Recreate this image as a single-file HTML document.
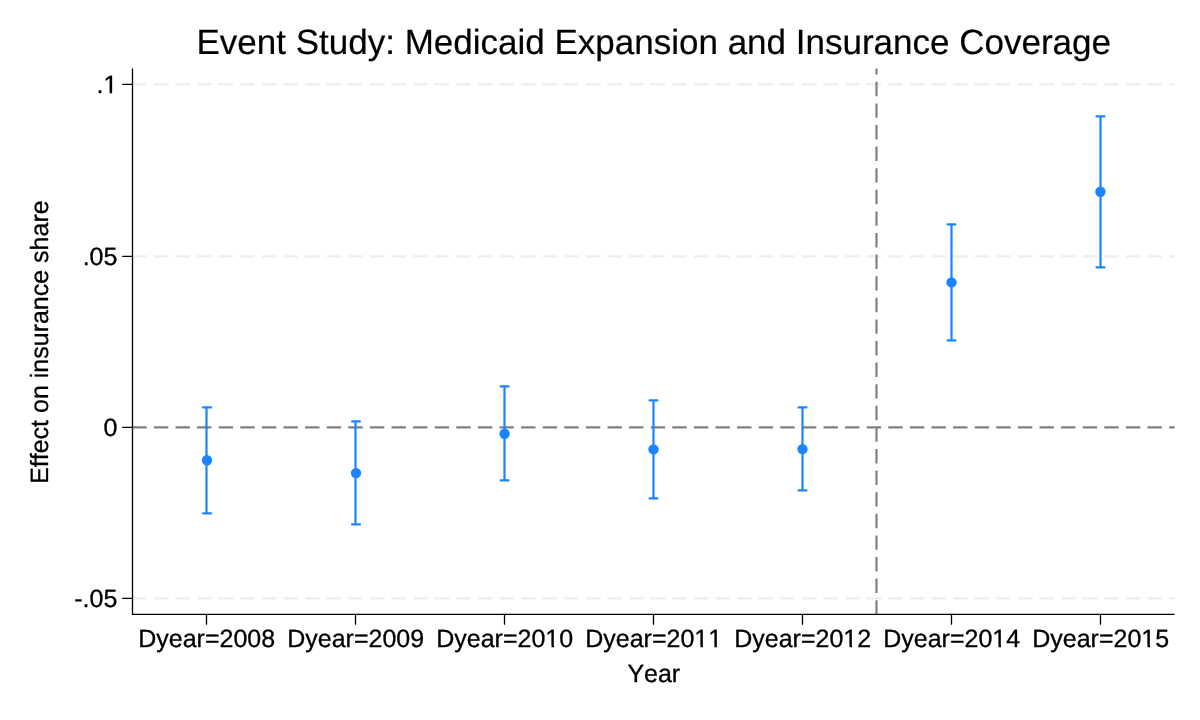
<!DOCTYPE html>
<html lang="en"><head><meta charset="utf-8"><title>Event Study: Medicaid Expansion and Insurance Coverage</title>
<style>
html,body{margin:0;padding:0;background:#fff;}
body{width:1200px;height:720px;overflow:hidden;}
svg{display:block;}
text{font-family:"Liberation Sans",Arial,Helvetica,sans-serif;fill:#000;text-rendering:geometricPrecision;font-kerning:none;}
</style></head><body>
<svg width="1200" height="720" viewBox="0 0 1200 720">
<rect x="0" y="0" width="1200" height="720" fill="#ffffff"/>

<g stroke="#ededed" stroke-width="2.1" stroke-dasharray="14.4 7.2" stroke-dashoffset="0.2" fill="none">
<line x1="132.50" y1="84.42" x2="1174.60" y2="84.42"/>
<line x1="132.50" y1="256.42" x2="1174.60" y2="256.42"/>
<line x1="132.50" y1="598.42" x2="1174.60" y2="598.42"/>
</g>
<g stroke="#808080" stroke-width="2.2" stroke-dasharray="14.4 7.2" stroke-dashoffset="0.2" fill="none">
<line x1="132.50" y1="427.42" x2="1174.60" y2="427.42"/>
<line x1="876.50" y1="614.42" x2="876.50" y2="68.40"/>
</g>
<g stroke="#1a85ff" stroke-width="2.2" stroke-linecap="round" fill="none">
<path d="M206.50 407.42V513.42M203.05 407.42H210.95M203.05 513.42H210.95"/>
<path d="M355.50 421.42V524.42M352.05 421.42H359.95M352.05 524.42H359.95"/>
<path d="M504.50 386.42V480.42M500.65 386.42H508.55M500.65 480.42H508.55"/>
<path d="M653.50 400.42V498.42M649.55 400.42H657.45M649.55 498.42H657.45"/>
<path d="M802.50 407.42V490.42M798.55 407.42H806.45M798.55 490.42H806.45"/>
<path d="M951.50 224.42V340.42M947.55 224.42H955.45M947.55 340.42H955.45"/>
<path d="M1100.50 116.42V267.42M1096.48 116.42H1104.38M1096.48 267.42H1104.38"/>
</g>
<g fill="#1a85ff">
<circle cx="207.00" cy="460.30" r="5.2"/>
<circle cx="356.00" cy="473.10" r="5.2"/>
<circle cx="504.60" cy="433.80" r="5.2"/>
<circle cx="653.50" cy="449.42" r="5.2"/>
<circle cx="802.50" cy="449.10" r="5.2"/>
<circle cx="951.50" cy="282.42" r="5.2"/>
<circle cx="1100.43" cy="191.73" r="5.2"/>
</g>
<g stroke="#000" stroke-width="1.3" stroke-linejoin="round" fill="none">
<path d="M132.50 68.40V614.42H1174.60"/>
<g stroke-linecap="round">
<line x1="122.70" y1="84.42" x2="132.50" y2="84.42"/>
<line x1="122.70" y1="256.42" x2="132.50" y2="256.42"/>
<line x1="122.70" y1="427.42" x2="132.50" y2="427.42"/>
<line x1="122.70" y1="598.42" x2="132.50" y2="598.42"/>
<line x1="206.50" y1="614.42" x2="206.50" y2="624.22"/>
<line x1="355.50" y1="614.42" x2="355.50" y2="624.22"/>
<line x1="504.50" y1="614.42" x2="504.50" y2="624.22"/>
<line x1="653.50" y1="614.42" x2="653.50" y2="624.22"/>
<line x1="802.50" y1="614.42" x2="802.50" y2="624.22"/>
<line x1="951.50" y1="614.42" x2="951.50" y2="624.22"/>
<line x1="1100.50" y1="614.42" x2="1100.50" y2="624.22"/>
</g></g>
<g font-size="25" stroke="#000" stroke-width="0.3" stroke-linejoin="round">
<text x="117.40" y="93.32" text-anchor="end">.1</text>
<text x="117.40" y="265.32" text-anchor="end">.05</text>
<text x="117.40" y="436.32" text-anchor="end">0</text>
<text x="117.40" y="607.32" text-anchor="end">-.05</text>
<text x="206.70" y="647.20" text-anchor="middle">Dyear=2008</text>
<text x="355.70" y="647.20" text-anchor="middle">Dyear=2009</text>
<text x="504.70" y="647.20" text-anchor="middle">Dyear=2010</text>
<text x="653.70" y="647.20" text-anchor="middle">Dyear=2011</text>
<text x="802.70" y="647.20" text-anchor="middle">Dyear=2012</text>
<text x="951.70" y="647.20" text-anchor="middle">Dyear=2014</text>
<text x="1100.70" y="647.20" text-anchor="middle">Dyear=2015</text>
<text x="653.8" y="682.1" text-anchor="middle">Year</text>
<text transform="translate(48.2 342.1) rotate(-90)" text-anchor="middle">Effect on insurance share</text>
</g>
<text x="653.75" y="54.3" font-size="35.0" stroke="#000" stroke-width="0.2" text-anchor="middle">Event Study: Medicaid Expansion and Insurance Coverage</text>
<g fill="#ffffff">
<rect x="104.08" y="90.70" width="5.54" height="3.3"/>
<rect x="112.12" y="90.70" width="5.20" height="3.3"/>
<rect x="545.94" y="644.70" width="5.54" height="3.3"/>
<rect x="553.99" y="644.70" width="5.20" height="3.3"/>
<rect x="694.94" y="644.70" width="5.54" height="3.3"/>
<rect x="702.99" y="644.70" width="5.20" height="3.3"/>
<rect x="708.83" y="644.70" width="5.54" height="3.3"/>
<rect x="716.88" y="644.70" width="5.20" height="3.3"/>
<rect x="843.94" y="644.70" width="5.54" height="3.3"/>
<rect x="851.99" y="644.70" width="5.20" height="3.3"/>
<rect x="992.94" y="644.70" width="5.54" height="3.3"/>
<rect x="1000.99" y="644.70" width="5.20" height="3.3"/>
<rect x="1141.94" y="644.70" width="5.54" height="3.3"/>
<rect x="1149.99" y="644.70" width="5.20" height="3.3"/>
</g>
</svg>
</body></html>
